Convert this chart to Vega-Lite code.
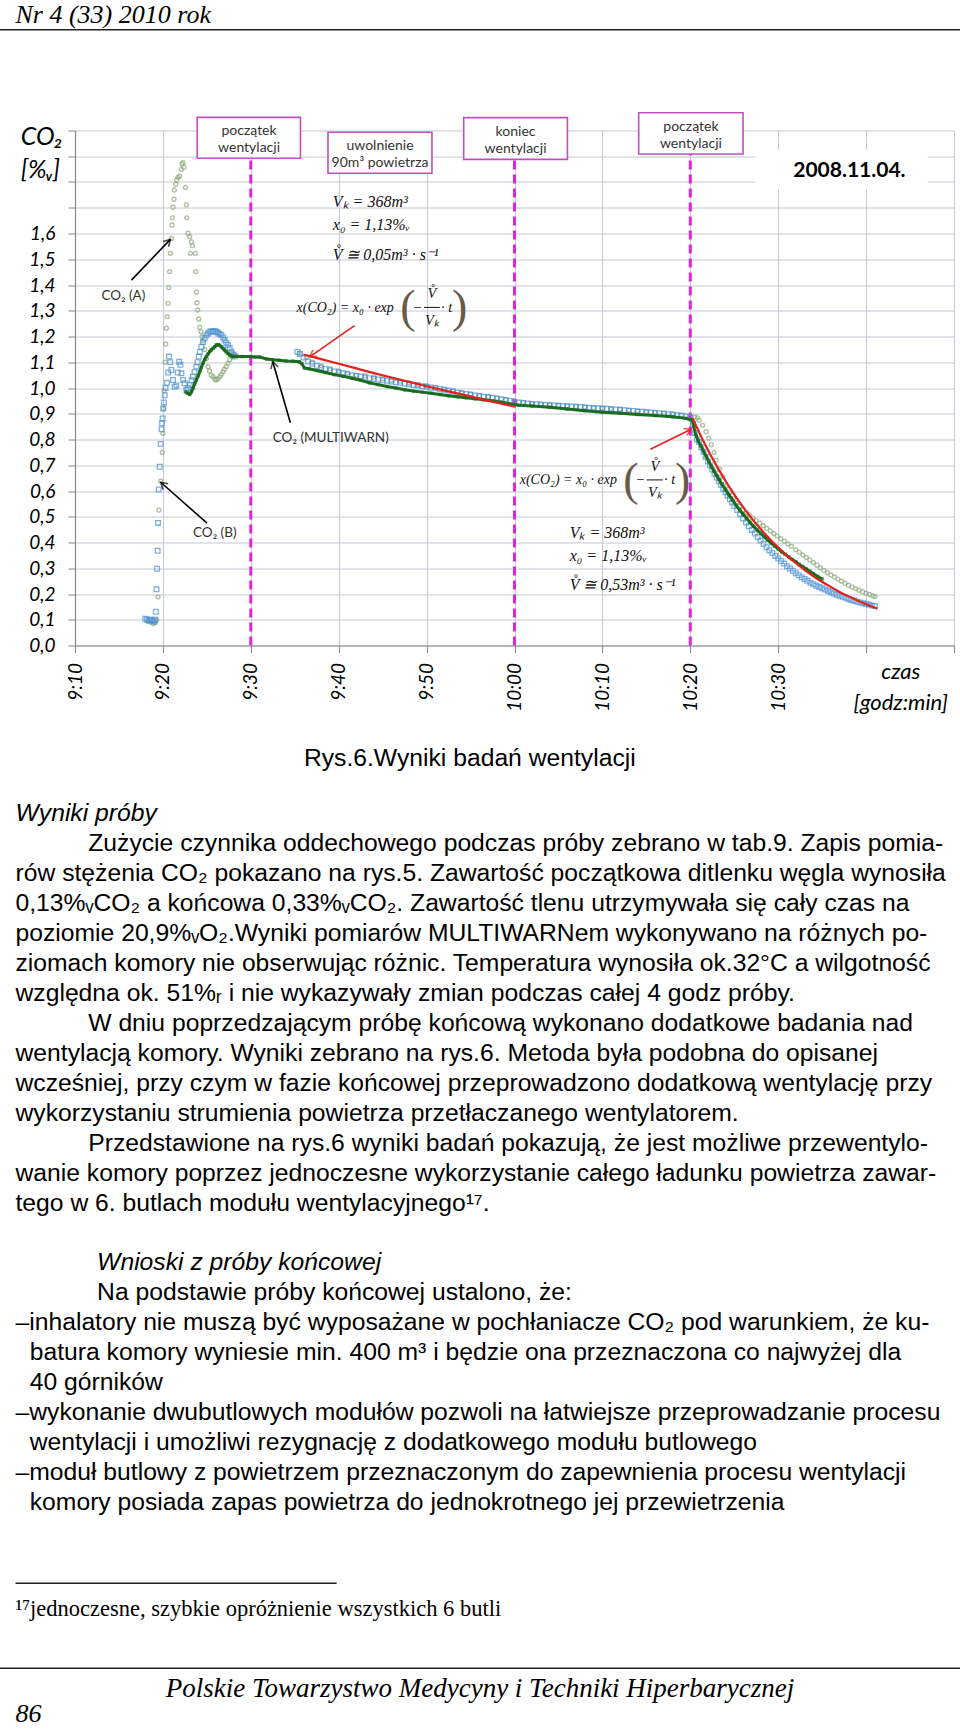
{
"$schema": "https://vega.github.io/schema/vega-lite/v6.json",
"width": 879, "height": 515,
"autosize": {"type": "none"},
"padding": {"left": 75, "top": 130.5, "right": 6, "bottom": 1084.5},
"background": "white",
"config": {"view": {"stroke": null},
  "axis": {"labelFont": "Lato", "labelFontStyle": "italic", "labelFontSize": 19, "labelColor": "#000000", "domainColor": "#868686", "tickColor": "#868686", "gridColor": "#c2cad4", "gridWidth": 1, "domainWidth": 1.2}},
"datasets": {
 "A": [
  {"m":18.3,"v":0.095},{"m":18.6,"v":0.09},{"m":18.9,"v":0.085},{"m":19.1,"v":0.088},{"m":19.3,"v":0.1},{"m":19.45,"v":0.189},{"m":19.55,"v":0.526},{"m":19.75,"v":0.638},{"m":19.94,"v":0.75},{"m":20.0,"v":0.824},{"m":20.05,"v":0.92},{"m":20.15,"v":0.99},{"m":20.25,"v":1.1},{"m":20.32,"v":1.171},{"m":20.4,"v":1.232},{"m":20.5,"v":1.277},{"m":20.58,"v":1.329},{"m":20.66,"v":1.39},{"m":20.77,"v":1.452},{"m":20.85,"v":1.523},{"m":20.97,"v":1.581},{"m":21.04,"v":1.633},{"m":21.08,"v":1.661},{"m":21.15,"v":1.702},{"m":21.26,"v":1.733},{"m":21.3,"v":1.769},{"m":21.46,"v":1.791},{"m":21.57,"v":1.808},{"m":21.72,"v":1.818},{"m":21.91,"v":1.823},{"m":22.1,"v":1.849},{"m":22.17,"v":1.87},{"m":22.29,"v":1.875},{"m":22.4,"v":1.857},{"m":22.56,"v":1.779},{"m":22.67,"v":1.712},{"m":22.71,"v":1.661},{"m":22.86,"v":1.601},{"m":23.05,"v":1.588},{"m":23.13,"v":1.523},{"m":23.24,"v":1.568},{"m":23.36,"v":1.553},{"m":23.7,"v":1.523},{"m":23.73,"v":1.452},{"m":23.81,"v":1.372},{"m":23.88,"v":1.331},{"m":23.96,"v":1.303},{"m":24.07,"v":1.268},{"m":24.19,"v":1.236},{"m":24.33,"v":1.219},{"m":24.45,"v":1.199},{"m":24.56,"v":1.184},{"m":24.75,"v":1.15},{"m":24.95,"v":1.115},{"m":25.13,"v":1.083},{"m":25.3,"v":1.066},{"m":25.5,"v":1.05},{"m":25.7,"v":1.044},{"m":25.9,"v":1.034},{"m":26.08,"v":1.031},{"m":26.25,"v":1.036},{"m":26.46,"v":1.044},{"m":26.65,"v":1.053},{"m":26.84,"v":1.063},{"m":27.0,"v":1.073},{"m":27.2,"v":1.083},{"m":27.4,"v":1.096},{"m":27.6,"v":1.109},{"m":27.86,"v":1.135},{"m":28.1,"v":1.13},{"m":28.4,"v":1.125},
  {"m":35.5,"v":1.135},{"m":36.3,"v":1.118},{"m":37.0,"v":1.1},{"m":38.0,"v":1.086},{"m":39.0,"v":1.075},{"m":40.0,"v":1.066},{"m":41.0,"v":1.058},{"m":42.0,"v":1.05},{"m":43.0,"v":1.048},{"m":44.0,"v":1.043},{"m":45.0,"v":1.036},{"m":46.0,"v":1.03},{"m":47.0,"v":1.026},{"m":48.0,"v":1.02},{"m":49.0,"v":1.013},{"m":50.0,"v":1.008},{"m":51.0,"v":1.002},{"m":52.0,"v":0.995},{"m":53.0,"v":0.989},{"m":54.0,"v":0.982},{"m":55.0,"v":0.977},{"m":56.0,"v":0.97},{"m":57.0,"v":0.966},{"m":58.0,"v":0.961},{"m":59.0,"v":0.955},{"m":60.0,"v":0.948},{"m":61.0,"v":0.944},{"m":62.0,"v":0.94},{"m":63.0,"v":0.937},{"m":64.0,"v":0.934},{"m":65.0,"v":0.932},{"m":66.0,"v":0.93},{"m":67.0,"v":0.928},{"m":68.0,"v":0.926},{"m":69.0,"v":0.923},{"m":70.0,"v":0.921},{"m":71.0,"v":0.919},{"m":72.0,"v":0.917},{"m":73.0,"v":0.914},{"m":74.0,"v":0.911},{"m":75.0,"v":0.908},{"m":76.0,"v":0.905},{"m":77.0,"v":0.902},{"m":78.0,"v":0.899},{"m":79.0,"v":0.895},{"m":80.0,"v":0.89},{"m":80.5,"v":0.888},{"m":80.8,"v":0.884},
  {"m":81.0,"v":0.875},{"m":81.4,"v":0.855},{"m":81.8,"v":0.83},{"m":82.1,"v":0.805},{"m":82.4,"v":0.78},{"m":82.7,"v":0.75},{"m":82.95,"v":0.72},{"m":83.3,"v":0.685},{"m":83.7,"v":0.655},{"m":84.1,"v":0.62},{"m":84.5,"v":0.592},{"m":84.9,"v":0.57},{"m":85.3,"v":0.552},{"m":85.6,"v":0.54},{"m":86.0,"v":0.527},{"m":86.4,"v":0.516},{"m":86.7,"v":0.507},{"m":87.1,"v":0.495},{"m":87.5,"v":0.485},{"m":87.9,"v":0.475},{"m":88.3,"v":0.465},{"m":88.7,"v":0.455},{"m":89.1,"v":0.445},{"m":89.5,"v":0.435},{"m":89.9,"v":0.425},{"m":90.3,"v":0.415},{"m":90.7,"v":0.405},{"m":91.1,"v":0.395},{"m":91.5,"v":0.385},{"m":92.0,"v":0.372},{"m":92.4,"v":0.362},{"m":92.8,"v":0.352},{"m":93.2,"v":0.342},{"m":93.6,"v":0.332},{"m":94.0,"v":0.322},{"m":94.4,"v":0.312},{"m":94.8,"v":0.302},{"m":95.2,"v":0.292},{"m":95.6,"v":0.283},{"m":96.0,"v":0.274},{"m":96.4,"v":0.266},{"m":96.8,"v":0.258},{"m":97.2,"v":0.25},{"m":97.6,"v":0.242},{"m":98.0,"v":0.234},{"m":98.4,"v":0.227},{"m":98.8,"v":0.221},{"m":99.2,"v":0.215},{"m":99.6,"v":0.209},{"m":100.0,"v":0.203},{"m":100.4,"v":0.198},{"m":100.8,"v":0.193},{"m":101.0,"v":0.19}
 ],
 "B": [
  {"m":18.0,"v":0.104},{"m":18.2,"v":0.1},{"m":18.4,"v":0.097},{"m":18.6,"v":0.101},{"m":18.8,"v":0.096},{"m":19.0,"v":0.093},{"m":19.1,"v":0.1},{"m":19.2,"v":0.131},{"m":19.27,"v":0.218},{"m":19.34,"v":0.298},{"m":19.4,"v":0.368},{"m":19.45,"v":0.476},{"m":19.52,"v":0.606},{"m":19.64,"v":0.694},{"m":19.75,"v":0.783},{"m":19.85,"v":0.84},{"m":19.9,"v":0.863},{"m":19.97,"v":0.882},{"m":20.05,"v":0.92},{"m":20.12,"v":0.944},{"m":20.2,"v":0.972},{"m":20.3,"v":1.0},{"m":20.45,"v":1.02},{"m":20.6,"v":1.06},{"m":20.7,"v":1.122},{"m":20.83,"v":1.1},{"m":20.97,"v":1.07},{"m":21.15,"v":1.031},{"m":21.34,"v":1.005},{"m":21.53,"v":1.01},{"m":21.7,"v":1.06},{"m":21.84,"v":1.102},{"m":21.99,"v":1.09},{"m":22.1,"v":1.057},{"m":22.29,"v":1.031},{"m":22.48,"v":1.018},{"m":22.67,"v":0.992},{"m":22.85,"v":1.0},{"m":23.05,"v":1.012},{"m":23.25,"v":1.03},{"m":23.42,"v":1.044},{"m":23.6,"v":1.062},{"m":23.81,"v":1.083},{"m":23.95,"v":1.1},{"m":24.07,"v":1.122},{"m":24.2,"v":1.14},{"m":24.38,"v":1.16},{"m":24.55,"v":1.178},{"m":24.75,"v":1.193},{"m":24.95,"v":1.205},{"m":25.13,"v":1.212},{"m":25.3,"v":1.218},{"m":25.5,"v":1.22},{"m":25.7,"v":1.219},{"m":25.9,"v":1.221},{"m":26.1,"v":1.218},{"m":26.27,"v":1.215},{"m":26.45,"v":1.21},{"m":26.65,"v":1.206},{"m":26.85,"v":1.196},{"m":27.03,"v":1.186},{"m":27.2,"v":1.176},{"m":27.4,"v":1.167},{"m":27.6,"v":1.155},{"m":27.79,"v":1.141},{"m":28.0,"v":1.13},{"m":28.17,"v":1.122},
  {"m":35.3,"v":1.14},{"m":35.6,"v":1.132},{"m":36.0,"v":1.118},{"m":36.5,"v":1.103},{"m":37.0,"v":1.094},{"m":37.5,"v":1.086},{"m":38.0,"v":1.079},{"m":38.5,"v":1.074},{"m":39.0,"v":1.069},{"m":39.5,"v":1.064},{"m":40.0,"v":1.06},{"m":40.5,"v":1.057},{"m":41.0,"v":1.053},{"m":41.5,"v":1.05},{"m":42.0,"v":1.047},{"m":42.5,"v":1.044},{"m":43.0,"v":1.041},{"m":43.5,"v":1.038},{"m":44.0,"v":1.035},{"m":44.5,"v":1.033},{"m":45.0,"v":1.03},{"m":45.5,"v":1.028},{"m":46.0,"v":1.025},{"m":46.5,"v":1.022},{"m":47.0,"v":1.02},{"m":47.5,"v":1.017},{"m":48.0,"v":1.015},{"m":48.5,"v":1.012},{"m":49.0,"v":1.01},{"m":49.5,"v":1.007},{"m":50.0,"v":1.005},{"m":50.5,"v":1.002},{"m":51.0,"v":1.0},{"m":51.5,"v":0.996},{"m":52.0,"v":0.993},{"m":52.5,"v":0.99},{"m":53.0,"v":0.986},{"m":53.5,"v":0.982},{"m":54.0,"v":0.979},{"m":54.5,"v":0.977},{"m":55.0,"v":0.974},{"m":55.5,"v":0.971},{"m":56.0,"v":0.969},{"m":56.5,"v":0.966},{"m":57.0,"v":0.964},{"m":57.5,"v":0.962},{"m":58.0,"v":0.959},{"m":58.5,"v":0.956},{"m":59.0,"v":0.953},{"m":59.5,"v":0.95},{"m":60.0,"v":0.946},{"m":60.5,"v":0.944},{"m":61.0,"v":0.942},{"m":61.5,"v":0.94},{"m":62.0,"v":0.938},{"m":62.5,"v":0.937},{"m":63.0,"v":0.935},{"m":63.5,"v":0.934},{"m":64.0,"v":0.933},{"m":64.5,"v":0.932},{"m":65.0,"v":0.931},{"m":65.5,"v":0.93},{"m":66.0,"v":0.929},{"m":66.5,"v":0.928},{"m":67.0,"v":0.927},{"m":67.5,"v":0.926},{"m":68.0,"v":0.924},{"m":68.5,"v":0.923},{"m":69.0,"v":0.922},{"m":69.5,"v":0.921},{"m":70.0,"v":0.92},{"m":70.5,"v":0.919},{"m":71.0,"v":0.918},{"m":71.5,"v":0.917},{"m":72.0,"v":0.916},{"m":72.5,"v":0.914},{"m":73.0,"v":0.912},{"m":73.5,"v":0.911},{"m":74.0,"v":0.909},{"m":74.5,"v":0.908},{"m":75.0,"v":0.906},{"m":75.5,"v":0.905},{"m":76.0,"v":0.903},{"m":76.5,"v":0.902},{"m":77.0,"v":0.9},{"m":77.5,"v":0.898},{"m":78.0,"v":0.896},{"m":78.5,"v":0.894},{"m":79.0,"v":0.892},{"m":79.5,"v":0.889},{"m":80.0,"v":0.885},
  {"m":80.3,"v":0.86},{"m":80.5,"v":0.825},{"m":80.75,"v":0.8},{"m":81.0,"v":0.79},{"m":81.25,"v":0.77},{"m":81.5,"v":0.752},{"m":81.75,"v":0.733},{"m":82.0,"v":0.715},{"m":82.25,"v":0.699},{"m":82.5,"v":0.683},{"m":82.75,"v":0.667},{"m":83.0,"v":0.652},{"m":83.25,"v":0.638},{"m":83.5,"v":0.623},{"m":83.75,"v":0.609},{"m":84.0,"v":0.595},{"m":84.25,"v":0.582},{"m":84.5,"v":0.568},{"m":84.75,"v":0.555},{"m":85.0,"v":0.542},{"m":85.33,"v":0.526},{"m":85.67,"v":0.51},{"m":86.0,"v":0.493},{"m":86.33,"v":0.478},{"m":86.67,"v":0.463},{"m":87.0,"v":0.449},{"m":87.33,"v":0.435},{"m":87.67,"v":0.421},{"m":88.0,"v":0.408},{"m":88.33,"v":0.395},{"m":88.67,"v":0.382},{"m":89.0,"v":0.37},{"m":89.33,"v":0.359},{"m":89.67,"v":0.348},{"m":90.0,"v":0.338},{"m":90.33,"v":0.328},{"m":90.67,"v":0.318},{"m":91.0,"v":0.308},{"m":91.33,"v":0.299},{"m":91.67,"v":0.29},{"m":92.0,"v":0.281},{"m":92.33,"v":0.273},{"m":92.67,"v":0.265},{"m":93.0,"v":0.258},{"m":93.33,"v":0.251},{"m":93.67,"v":0.244},{"m":94.0,"v":0.238},{"m":94.33,"v":0.232},{"m":94.67,"v":0.227},{"m":95.0,"v":0.222},{"m":95.33,"v":0.217},{"m":95.67,"v":0.212},{"m":96.0,"v":0.207},{"m":96.33,"v":0.202},{"m":96.67,"v":0.197},{"m":97.0,"v":0.193},{"m":97.33,"v":0.189},{"m":97.67,"v":0.185},{"m":98.0,"v":0.181},{"m":98.33,"v":0.177},{"m":98.67,"v":0.174},{"m":99.0,"v":0.17},{"m":99.33,"v":0.167},{"m":99.67,"v":0.164},{"m":100.0,"v":0.161},{"m":100.33,"v":0.158},{"m":100.67,"v":0.155},{"m":101.0,"v":0.153}
 ],
 "MW": [
  {"m":22.6,"v":0.985},{"m":22.8,"v":0.98},{"m":23.05,"v":0.975},{"m":23.25,"v":0.985},{"m":23.42,"v":0.999},{"m":23.6,"v":1.015},{"m":23.81,"v":1.031},{"m":24.0,"v":1.047},{"m":24.19,"v":1.063},{"m":24.37,"v":1.08},{"m":24.56,"v":1.096},{"m":24.75,"v":1.11},{"m":24.94,"v":1.122},{"m":25.13,"v":1.132},{"m":25.32,"v":1.141},{"m":25.5,"v":1.148},{"m":25.7,"v":1.154},{"m":25.9,"v":1.16},{"m":26.08,"v":1.167},{"m":26.3,"v":1.168},{"m":26.46,"v":1.166},{"m":26.65,"v":1.16},{"m":26.84,"v":1.154},{"m":27.0,"v":1.148},{"m":27.2,"v":1.141},{"m":27.4,"v":1.134},{"m":27.6,"v":1.128},{"m":27.8,"v":1.124},{"m":28.0,"v":1.122},{"m":29.0,"v":1.122},{"m":30.0,"v":1.122},{"m":30.5,"v":1.12},{"m":31.0,"v":1.12},{"m":31.8,"v":1.113},{"m":32.5,"v":1.11},{"m":33.2,"v":1.108},{"m":34.0,"v":1.105},{"m":34.8,"v":1.104},{"m":35.5,"v":1.102},{"m":35.8,"v":1.095},{"m":36.1,"v":1.078},
  {"m":36.6,"v":1.075},{"m":37.5,"v":1.068},{"m":38.5,"v":1.06},{"m":39.5,"v":1.052},{"m":40.5,"v":1.046},{"m":41.5,"v":1.038},{"m":42.5,"v":1.03},{"m":43.5,"v":1.02},{"m":44.5,"v":1.013},{"m":45.5,"v":1.006},{"m":46.5,"v":1.0},{"m":47.5,"v":0.993},{"m":48.5,"v":0.988},{"m":49.5,"v":0.984},{"m":50.5,"v":0.98},{"m":51.5,"v":0.975},{"m":52.5,"v":0.97},{"m":53.5,"v":0.966},{"m":54.5,"v":0.962},{"m":55.5,"v":0.958},{"m":56.5,"v":0.954},{"m":57.5,"v":0.95},{"m":58.5,"v":0.945},{"m":59.5,"v":0.938},{"m":60.5,"v":0.933},{"m":62.0,"v":0.93},{"m":64.0,"v":0.925},{"m":66.0,"v":0.918},{"m":68.0,"v":0.912},{"m":70.0,"v":0.906},{"m":72.0,"v":0.902},{"m":74.0,"v":0.897},{"m":76.0,"v":0.893},{"m":78.0,"v":0.888},{"m":79.5,"v":0.882},{"m":80.2,"v":0.876},
  {"m":80.4,"v":0.85},{"m":80.6,"v":0.82},{"m":80.9,"v":0.795},{"m":81.2,"v":0.775},{"m":81.5,"v":0.755},{"m":81.8,"v":0.735},{"m":82.1,"v":0.715},{"m":82.4,"v":0.695},{"m":82.7,"v":0.677},{"m":83.0,"v":0.66},{"m":83.3,"v":0.643},{"m":83.6,"v":0.626},{"m":84.0,"v":0.605},{"m":84.4,"v":0.585},{"m":84.8,"v":0.565},{"m":85.2,"v":0.545},{"m":85.6,"v":0.527},{"m":86.0,"v":0.51},{"m":86.4,"v":0.494},{"m":86.8,"v":0.478},{"m":87.2,"v":0.463},{"m":87.6,"v":0.449},{"m":88.0,"v":0.436},{"m":88.4,"v":0.423},{"m":88.8,"v":0.41},{"m":89.2,"v":0.398},{"m":89.6,"v":0.386},{"m":90.0,"v":0.375},{"m":90.4,"v":0.364},{"m":90.8,"v":0.354},{"m":91.2,"v":0.344},{"m":91.6,"v":0.334},{"m":92.0,"v":0.325},{"m":92.4,"v":0.315},{"m":92.8,"v":0.306},{"m":93.2,"v":0.297},{"m":93.6,"v":0.288},{"m":94.0,"v":0.279},{"m":94.5,"v":0.268},{"m":95.0,"v":0.258}
 ],
 "red": [
  {"seg":1,"m":36,"v":1.13},{"seg":1,"m":38,"v":1.112},{"seg":1,"m":40,"v":1.094},{"seg":1,"m":42,"v":1.076},{"seg":1,"m":44,"v":1.058},{"seg":1,"m":46,"v":1.041},{"seg":1,"m":48,"v":1.024},{"seg":1,"m":50,"v":1.007},{"seg":1,"m":52,"v":0.991},{"seg":1,"m":54,"v":0.975},{"seg":1,"m":56,"v":0.959},{"seg":1,"m":58,"v":0.943},{"seg":1,"m":60,"v":0.928},
  {"seg":2,"m":80.3,"v":0.88},{"seg":2,"m":81.3,"v":0.807},{"seg":2,"m":82.3,"v":0.74},{"seg":2,"m":83.3,"v":0.679},{"seg":2,"m":84.3,"v":0.623},{"seg":2,"m":85.3,"v":0.571},{"seg":2,"m":86.3,"v":0.524},{"seg":2,"m":87.3,"v":0.48},{"seg":2,"m":88.3,"v":0.441},{"seg":2,"m":89.3,"v":0.404},{"seg":2,"m":90.3,"v":0.371},{"seg":2,"m":91.3,"v":0.34},{"seg":2,"m":92.3,"v":0.312},{"seg":2,"m":93.3,"v":0.286},{"seg":2,"m":94.3,"v":0.262},{"seg":2,"m":95.3,"v":0.241},{"seg":2,"m":96.3,"v":0.221},{"seg":2,"m":97.3,"v":0.202},{"seg":2,"m":98.3,"v":0.186},{"seg":2,"m":99.3,"v":0.17},{"seg":2,"m":100.3,"v":0.156},{"seg":2,"m":101.3,"v":0.143}
 ]
},
"layer": [
 {
  "encoding": {
   "x": {"field": "m", "type": "quantitative", "scale": {"domain": [10, 110], "nice": false, "zero": false},
     "axis": {"title": null, "values": [10,20,30,40,50,60,70,80,90,100,110], "grid": true, "tickSize": 7, "labelAngle": -90, "labelAlign": "right", "labelBaseline": "middle", "labelPadding": 10, "labelFlush": false, "labelOverlap": false,
       "labelExpr": "datum.value <= 90 ? (9 + floor(datum.value / 60)) + ':' + (datum.value % 60 < 10 ? '0' : '') + (datum.value % 60) : ''"}},
   "y": {"field": "v", "type": "quantitative", "scale": {"domain": [0, 2], "nice": false, "zero": false},
     "axis": {"title": null, "values": [0,0.1,0.2,0.3,0.4,0.5,0.6,0.7,0.8,0.9,1,1.1,1.2,1.3,1.4,1.5,1.6,1.7,1.8,1.9,2], "grid": true, "tickSize": 7, "labelPadding": 13, "labelFlush": false, "labelOverlap": false,
       "labelExpr": "datum.value < 1.65 ? replace(format(datum.value, '.1f'), '.', ',') : ''"}}
  },
  "layer": [
   {"data": {"values": [{"m": 87.4, "m2": 107, "v": 1.77, "v2": 1.925}]}, "mark": {"type": "rect", "fill": "white"}, "encoding": {"x2": {"field": "m2"}, "y2": {"field": "v2"}}},
   {"data": {"values": [{"m": 30, "v": 0, "v2": 1.892}, {"m": 60, "v": 0, "v2": 1.888}, {"m": 80, "v": 0, "v2": 1.909}]}, "mark": {"type": "rule", "color": "#e322e0", "strokeWidth": 3, "strokeDash": [9, 5]}, "encoding": {"y2": {"field": "v2"}}},
   {"data": {"name": "A"}, "mark": {"type": "point", "shape": "circle", "filled": false, "color": "#8aa878", "size": 16, "strokeWidth": 1.3}},
   {"data": {"name": "B"}, "mark": {"type": "point", "shape": "square", "filled": false, "color": "#4a90d2", "size": 22, "strokeWidth": 1.3}},
   {"data": {"name": "MW"}, "mark": {"type": "line", "color": "#1b6b20", "strokeWidth": 3}},
   {"data": {"name": "MW"}, "mark": {"type": "point", "shape": "square", "filled": true, "color": "#1b6b20", "size": 12}},
   {"data": {"name": "red"}, "mark": {"type": "line", "color": "#e3211c", "strokeWidth": 2.2}, "encoding": {"detail": {"field": "seg"}}},
   {"data": {"values": [{"m": 23.9, "m2": 35.65, "v": 1.892, "v2": 2.051}, {"m": 38.78, "m2": 50.61, "v": 1.834, "v2": 1.993}, {"m": 54.22, "m2": 66.02, "v": 1.888, "v2": 2.05}, {"m": 74.13, "m2": 86.0, "v": 1.909, "v2": 2.069}]},
    "mark": {"type": "rect", "fill": "white", "stroke": "#c24fbf", "strokeWidth": 1.6}, "encoding": {"x2": {"field": "m2"}, "y2": {"field": "v2"}}},
   {"data": {"values": [{"m": 29.8, "v": 1.998, "t": "początek"}, {"m": 29.8, "v": 1.932, "t": "wentylacji"}, {"m": 44.7, "v": 1.94, "t": "uwolnienie"}, {"m": 44.7, "v": 1.874, "t": "90m³ powietrza"}, {"m": 60.12, "v": 1.996, "t": "koniec"}, {"m": 60.12, "v": 1.93, "t": "wentylacji"}, {"m": 80.07, "v": 2.014, "t": "początek"}, {"m": 80.07, "v": 1.948, "t": "wentylacji"}]},
    "mark": {"type": "text", "font": "Lato", "fontSize": 14, "color": "#333333", "align": "center", "baseline": "middle"}, "encoding": {"text": {"field": "t"}}},
   {"data": {"values": [{"m": 16.42, "v": 1.419, "m2": 20.85, "v2": 1.577}, {"m": 25.02, "v": 0.475, "m2": 19.75, "v2": 0.634}, {"m": 34.5, "v": 0.865, "m2": 32.5, "v2": 1.102}]},
    "mark": {"type": "rule", "color": "#000000", "strokeWidth": 1.6}, "encoding": {"x2": {"field": "m2"}, "y2": {"field": "v2"}}},
   {"data": {"values": [{"m": 41.8, "v": 1.242, "m2": 36.7, "v2": 1.121}, {"m": 75.46, "v": 0.762, "m2": 80.1, "v2": 0.84}]},
    "mark": {"type": "rule", "color": "#e3211c", "strokeWidth": 1.6}, "encoding": {"x2": {"field": "m2"}, "y2": {"field": "v2"}}},
   {"data": {"values": [{"m": 20.85, "v": 1.577}]}, "mark": {"type": "point", "shape": "M-0.7,1.2L0,0L0.7,1.2", "filled": false, "stroke": "#000000", "strokeWidth": 1.6, "size": 120, "angle": 44}},
   {"data": {"values": [{"m": 19.75, "v": 0.634}]}, "mark": {"type": "point", "shape": "M-0.7,1.2L0,0L0.7,1.2", "filled": false, "stroke": "#000000", "strokeWidth": 1.6, "size": 120, "angle": 311.5}},
   {"data": {"values": [{"m": 32.5, "v": 1.102}]}, "mark": {"type": "point", "shape": "M-0.7,1.2L0,0L0.7,1.2", "filled": false, "stroke": "#000000", "strokeWidth": 1.6, "size": 120, "angle": 344}},
   {"data": {"values": [{"m": 36.7, "v": 1.121}]}, "mark": {"type": "point", "shape": "M-0.7,1.2L0,0L0.7,1.2", "filled": false, "stroke": "#e3211c", "strokeWidth": 1.6, "size": 120, "angle": 235.4}},
   {"data": {"values": [{"m": 80.1, "v": 0.84}]}, "mark": {"type": "point", "shape": "M-0.7,1.2L0,0L0.7,1.2", "filled": false, "stroke": "#e3211c", "strokeWidth": 1.6, "size": 120, "angle": 64}},
   {"data": {"values": [{"m": 15.5, "v": 1.357, "t": "CO₂ (A)"}, {"m": 25.9, "v": 0.437, "t": "CO₂ (B)"}, {"m": 39.1, "v": 0.806, "t": "CO₂ (MULTIWARN)"}]},
    "mark": {"type": "text", "font": "Lato", "fontSize": 13.5, "color": "#333333", "align": "center", "baseline": "middle"}, "encoding": {"text": {"field": "t"}}},
   {"data": {"values": [{"m": 39.33, "v": 1.724, "t": "Vₖ = 368m³"}, {"m": 39.33, "v": 1.633, "t": "x₀ = 1,13%ᵥ"}, {"m": 39.33, "v": 1.517, "t": "V̊ ≅ 0,05m³ · s⁻¹"},
      {"m": 66.28, "v": 0.436, "t": "Vₖ = 368m³"}, {"m": 66.28, "v": 0.348, "t": "x₀ = 1,13%ᵥ"}, {"m": 66.28, "v": 0.235, "t": "V̊ ≅ 0,53m³ · s⁻¹"}]},
    "mark": {"type": "text", "font": "Liberation Serif", "fontStyle": "italic", "fontSize": 16, "color": "#111111", "align": "left", "baseline": "middle"}, "encoding": {"text": {"field": "t"}}},
   {"data": {"values": [{"m": 35.2, "v": 1.31, "t": "x(CO₂) = x₀ · exp"}, {"m": 60.59, "v": 0.643, "t": "x(CO₂) = x₀ · exp"}]},
    "mark": {"type": "text", "font": "Liberation Serif", "fontStyle": "italic", "fontSize": 14, "color": "#111111", "align": "left", "baseline": "middle"}, "encoding": {"text": {"field": "t"}}},
   {"data": {"values": [{"m": 48.93, "v": 1.31, "t": "−"}, {"m": 52.28, "v": 1.31, "t": "· t"}, {"m": 74.3, "v": 0.643, "t": "−"}, {"m": 77.65, "v": 0.643, "t": "· t"}, {"m": 50.6, "v": 1.365, "t": "V̊"}, {"m": 50.6, "v": 1.262, "t": "Vₖ"}, {"m": 75.97, "v": 0.695, "t": "V̊"}, {"m": 75.97, "v": 0.591, "t": "Vₖ"}]},
    "mark": {"type": "text", "font": "Liberation Serif", "fontStyle": "italic", "fontSize": 14.5, "color": "#111111", "align": "center", "baseline": "middle"}, "encoding": {"text": {"field": "t"}}},
   {"data": {"values": [{"m": 47.86, "v": 1.31, "t": "("}, {"m": 53.77, "v": 1.31, "t": ")"}, {"m": 73.23, "v": 0.64, "t": "("}, {"m": 79.14, "v": 0.64, "t": ")"}]},
    "mark": {"type": "text", "font": "Liberation Serif", "fontSize": 46, "color": "#6a5a4a", "align": "center", "baseline": "middle"}, "encoding": {"text": {"field": "t"}}},
   {"data": {"values": [{"m": 49.7, "m2": 51.5, "v": 1.313}, {"m": 75.07, "m2": 76.87, "v": 0.643}]}, "mark": {"type": "rule", "color": "#111111", "strokeWidth": 1}, "encoding": {"x2": {"field": "m2"}}},
   {"data": {"values": [{"m": 98.1, "v": 1.843, "t": "2008.11.04."}]}, "mark": {"type": "text", "font": "Lato", "fontWeight": "bold", "fontSize": 21, "color": "#000000", "align": "center", "baseline": "middle"}, "encoding": {"text": {"field": "t"}}},
   {"data": {"values": [{"m": 3.82, "v": 1.975, "t": "CO₂"}, {"m": 3.82, "v": 1.847, "t": "[%ᵥ]"}]}, "mark": {"type": "text", "font": "Lato", "fontStyle": "italic", "fontSize": 25, "color": "#000000", "align": "left", "baseline": "middle"}, "encoding": {"text": {"field": "t"}}},
   {"data": {"values": [{"m": 103.94, "v": -0.103, "t": "czas"}, {"m": 103.94, "v": -0.223, "t": "[godz:min]"}]}, "mark": {"type": "text", "font": "Lato", "fontStyle": "italic", "fontSize": 22, "color": "#000000", "align": "center", "baseline": "middle"}, "encoding": {"text": {"field": "t"}}}
  ]
 },
 {
  "encoding": {
   "x": {"field": "col", "type": "quantitative", "scale": {"domain": [0, 100], "range": [-59.5, 885], "nice": false, "zero": false}, "axis": null},
   "y": {"field": "line", "type": "quantitative", "scale": {"domain": [0, 57], "range": [-124.6, 1581.98], "nice": false, "zero": false}, "axis": null}
  },
  "layer": [
   {"data": {"values": [{"col": -1.64, "col2": 100, "line": 0.8}, {"col": -1.64, "col2": 100, "line": 55.52}, {"col": 0, "col2": 34, "line": 52.68}]},
    "mark": {"type": "rule", "color": "#222222", "strokeWidth": 1.5}, "encoding": {"x2": {"field": "col2"}}},
   {"data": {"values": [{"col": 0, "line": 0.32, "t": "Nr 4 (33) 2010 rok"}, {"col": 0, "line": 57.06, "t": "86"}]},
    "mark": {"type": "text", "font": "Liberation Serif", "fontStyle": "italic", "fontSize": 26, "color": "#000000", "align": "left", "baseline": "middle"}, "encoding": {"text": {"field": "t"}}},
   {"data": {"values": [{"col": 49.18, "line": 56.23, "t": "Polskie Towarzystwo Medycyny i Techniki Hiperbarycznej"}]},
    "mark": {"type": "text", "font": "Liberation Serif", "fontStyle": "italic", "fontSize": 27, "color": "#000000", "align": "center", "baseline": "middle"}, "encoding": {"text": {"field": "t"}}},
   {"data": {"values": [{"col": 0, "line": 53.54, "t": "¹⁷jednoczesne, szybkie opróżnienie wszystkich 6 butli"}]},
    "mark": {"type": "text", "font": "Liberation Serif", "fontSize": 22.5, "color": "#000000", "align": "left", "baseline": "middle"}, "encoding": {"text": {"field": "t"}}},
   {"data": {"values": [{"col": 48.1, "line": 25.15, "t": "Rys.6.Wyniki badań wentylacji"}]},
    "mark": {"type": "text", "font": "Liberation Sans", "fontSize": 24.7, "color": "#000000", "align": "center", "baseline": "middle"}, "encoding": {"text": {"field": "t"}}},
   {"data": {"values": [{"col": 0, "line": 27, "t": "Wyniki próby"}, {"col": 8.64, "line": 42, "t": "Wnioski z próby końcowej"}]},
    "mark": {"type": "text", "font": "Liberation Sans", "fontStyle": "italic", "fontSize": 24.7, "color": "#000000", "align": "left", "baseline": "middle"}, "encoding": {"text": {"field": "t"}}},
   {"data": {"values": [
     {"col": 7.7, "line": 28, "t": "Zużycie czynnika oddechowego podczas próby zebrano w tab.9. Zapis pomia-"},
     {"col": 0, "line": 29, "t": "rów stężenia CO₂ pokazano na rys.5. Zawartość początkowa ditlenku węgla wynosiła"},
     {"col": 0, "line": 30, "t": "0,13%ᵥCO₂ a końcowa 0,33%ᵥCO₂. Zawartość tlenu utrzymywała się cały czas na"},
     {"col": 0, "line": 31, "t": "poziomie 20,9%ᵥO₂.Wyniki pomiarów MULTIWARNem wykonywano na różnych po-"},
     {"col": 0, "line": 32, "t": "ziomach komory nie obserwując różnic. Temperatura wynosiła ok.32°C a wilgotność"},
     {"col": 0, "line": 33, "t": "względna ok. 51%ᵣ i nie wykazywały zmian podczas całej 4 godz próby."},
     {"col": 7.7, "line": 34, "t": "W dniu poprzedzającym próbę końcową wykonano dodatkowe badania nad"},
     {"col": 0, "line": 35, "t": "wentylacją komory. Wyniki zebrano na rys.6. Metoda była podobna do opisanej"},
     {"col": 0, "line": 36, "t": "wcześniej, przy czym w fazie końcowej przeprowadzono dodatkową wentylację przy"},
     {"col": 0, "line": 37, "t": "wykorzystaniu strumienia powietrza przetłaczanego wentylatorem."},
     {"col": 7.7, "line": 38, "t": "Przedstawione na rys.6 wyniki badań pokazują, że jest możliwe przewentylo-"},
     {"col": 0, "line": 39, "t": "wanie komory poprzez jednoczesne wykorzystanie całego ładunku powietrza zawar-"},
     {"col": 0, "line": 40, "t": "tego w 6. butlach modułu wentylacyjnego¹⁷."},
     {"col": 8.64, "line": 43, "t": "Na podstawie próby końcowej ustalono, że:"},
     {"col": 0, "line": 44, "t": "–inhalatory nie muszą być wyposażane w pochłaniacze CO₂ pod warunkiem, że ku-"},
     {"col": 1.51, "line": 45, "t": "batura komory wyniesie min. 400 m³ i będzie ona przeznaczona co najwyżej dla"},
     {"col": 1.51, "line": 46, "t": "40 górników"},
     {"col": 0, "line": 47, "t": "–wykonanie dwubutlowych modułów pozwoli na łatwiejsze przeprowadzanie procesu"},
     {"col": 1.51, "line": 48, "t": "wentylacji i umożliwi rezygnację z dodatkowego modułu butlowego"},
     {"col": 0, "line": 49, "t": "–moduł butlowy z powietrzem przeznaczonym do zapewnienia procesu wentylacji"},
     {"col": 1.51, "line": 50, "t": "komory posiada zapas powietrza do jednokrotnego jej przewietrzenia"}
    ]},
    "mark": {"type": "text", "font": "Liberation Sans", "fontSize": 24.7, "color": "#000000", "align": "left", "baseline": "middle"}, "encoding": {"text": {"field": "t"}}}
  ]
 }
],
"resolve": {"scale": {"x": "independent", "y": "independent"}}
}
